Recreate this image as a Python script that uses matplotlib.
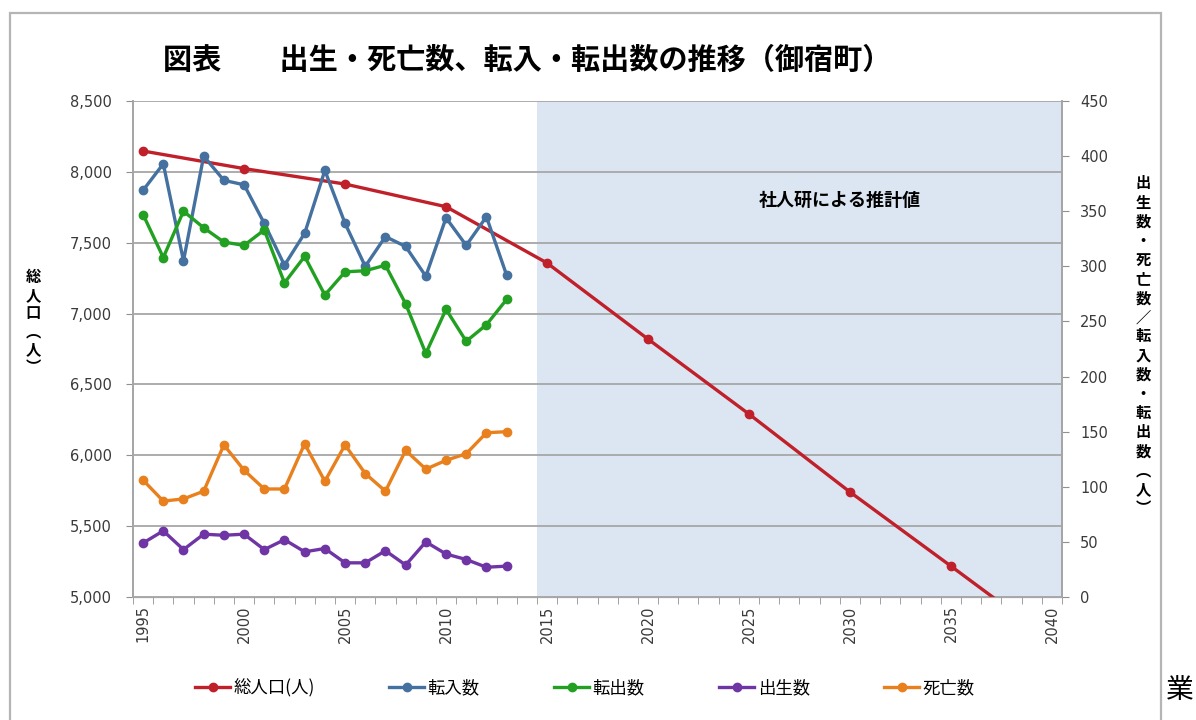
import matplotlib.pyplot as plt
import matplotlib.ticker as mticker
from matplotlib.patches import Rectangle
from matplotlib.lines import Line2D

plt.rcParams['font.family'] = ['Noto Sans CJK JP', 'DejaVu Sans']

# 総人口 (5年毎、2015年以降は推計)
pop_years = [1995, 2000, 2005, 2010, 2015, 2020, 2025, 2030, 2035, 2040]
pop = [8147, 8023, 7914, 7754, 7357, 6820, 6291, 5741, 5218, 4690]

years = list(range(1995, 2014))
tennyu = [369, 393, 305, 400, 378, 374, 339, 301, 330, 387,
          339, 300, 327, 318, 291, 344, 319, 345, 292]
tenshutsu = [347, 308, 350, 335, 322, 319, 333, 285, 309, 274,
             295, 296, 301, 266, 221, 261, 232, 247, 270]
shusshou = [49, 60, 43, 57, 56, 57, 43, 52, 41, 44,
            31, 31, 42, 29, 50, 39, 34, 27, 28]
shibou = [106, 87, 89, 96, 138, 115, 98, 98, 139, 105,
          138, 112, 96, 133, 116, 124, 130, 149, 150]

c_pop = '#c0202a'
c_in = '#44719f'
c_out = '#22a022'
c_birth = '#7035a5'
c_death = '#e8801e'

fig = plt.figure(figsize=(11.96, 7.2), dpi=100)
ax = fig.add_axes([133/1196, 1-597/720, 929/1196, 496/720])
ax2 = ax.twinx()

# 推計期間の網掛け
ax.axvspan(2014.5, 2040.5, color='#dce6f2', zorder=0, lw=0)

ax.plot(pop_years, pop, color=c_pop, lw=2.4, marker='o', ms=6, zorder=3)
ax.set_xlim(1994.5, 2040.5)
ax.set_ylim(5000, 8500)
ax.set_yticks(range(5000, 8501, 500))
ax.yaxis.set_major_formatter(mticker.FuncFormatter(lambda v, p: f'{int(v):,}'))
ax.grid(axis='y', color='#a6a6a6', lw=1.3)
ax.set_axisbelow(True)

ax.set_xticks(range(1995, 2041, 5))
ax.set_xticks([y + 0.5 for y in range(1994, 2041)], minor=True)
ax.tick_params(axis='x', which='major', length=0, labelrotation=90, labelsize=10.5, pad=6)
ax.tick_params(axis='x', which='minor', length=5, color='#909090', direction='out')
ax.tick_params(axis='y', length=5, color='#909090', labelsize=10.5, pad=10)

for ser, col in [(tennyu, c_in), (tenshutsu, c_out), (shusshou, c_birth), (shibou, c_death)]:
    ax2.plot(years, ser, color=col, lw=2.4, marker='o', ms=6, zorder=3)
ax2.set_ylim(0, 450)
ax2.set_yticks(range(0, 451, 50))
ax2.tick_params(axis='y', length=5, color='#909090', labelsize=10.5, pad=8)

for lab in ax.get_xticklabels() + ax.get_yticklabels() + ax2.get_yticklabels():
    lab.set_color('#3a3a3a')
    lab.set_family('DejaVu Sans')

for a in (ax, ax2):
    a.spines['top'].set_visible(False)
    a.spines['left'].set_color('#a6a6a6')
    a.spines['right'].set_color('#a6a6a6')
    a.spines['bottom'].set_color('#a6a6a6')
    a.spines['left'].set_linewidth(1.3)
    a.spines['right'].set_linewidth(1.3)

ax.text(2029.5, 7800, '社人研による推計値', fontsize=13, fontweight='bold',
        ha='center', va='center', zorder=4)

fig.text(527/1196, 1-60/720, '図表　　出生・死亡数、転入・転出数の推移（御宿町）',
         fontsize=21, fontweight='bold', ha='center', va='center')

fig.text(33/1196, 1-322/720, '\n'.join('総人口︵人︶'), fontsize=11, fontweight='bold',
         ha='center', va='center', linespacing=1.15)
right_label = '出生数・死亡数／転入数・転出数︵人︶'
fig.text(1143/1196, 1-346/720, '\n'.join(right_label), fontsize=11, fontweight='bold',
         ha='center', va='center', linespacing=1.24)

handles = [Line2D([], [], color=c, lw=2.4, marker='o', ms=6)
           for c in (c_pop, c_in, c_out, c_birth, c_death)]
labels = ['総人口(人)', '転入数', '転出数', '出生数', '死亡数']
fig.legend(handles, labels, loc='center', bbox_to_anchor=(585/1196, 1-688/720),
           ncol=5, frameon=False, fontsize=12.5, columnspacing=4.3,
           handlelength=2.0, handletextpad=0.2)

fig.patches.append(Rectangle((10/1196, -0.02), 1151/1196, 1.02-13/720,
                             transform=fig.transFigure, fill=False,
                             edgecolor='#b5b5b5', lw=1.6))
fig.text(1180/1196, 1-690/720, '業', fontsize=20, ha='center', va='center')

fig.savefig('out.png', dpi=100)
